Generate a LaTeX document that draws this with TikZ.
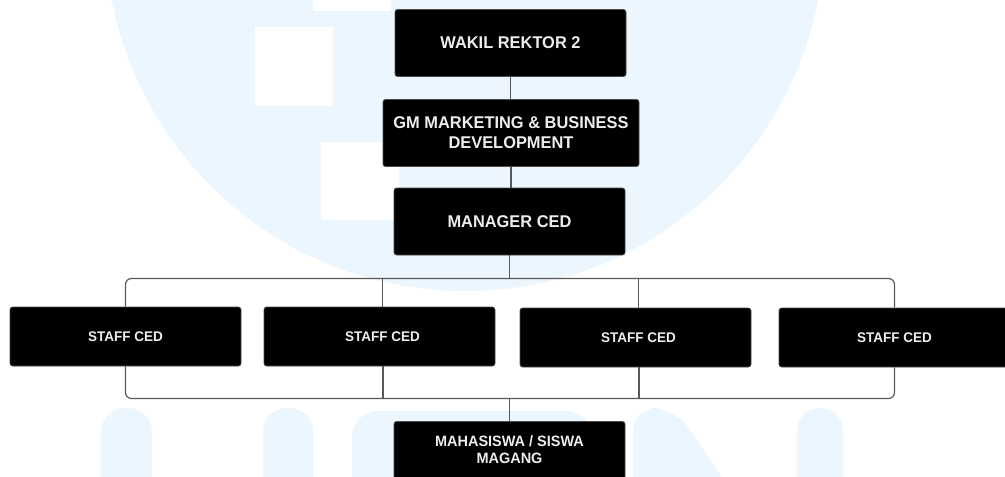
\documentclass[tikz,border=0pt]{standalone}
\usepackage{fontspec}
\setmainfont{Liberation Sans Bold}[FakeStretch=0.965]
\definecolor{wm}{HTML}{EBF6FF}
\tikzset{
  x=1pt,y=-1pt,
  box/.style={draw=black!70,line width=.6pt,fill=black,text=white!93!black,rounded corners=2.5pt,align=center,inner sep=0pt,minimum width=231pt},
  big/.style={box,minimum height=67pt,font=\fontsize{17}{20}\selectfont},
  staff/.style={box,minimum height=59pt,font=\fontsize{14}{16}\selectfont},
  conn/.style={draw=black!65,line width=1.2pt},
  wmw/.style={fill=white,draw=none},
  wmb/.style={fill=wm,draw=none}
}
\begin{document}
\begin{tikzpicture}
\useasboundingbox (0,0) rectangle (1005,477);
\clip (0,0) rectangle (1005,477);
\fill[white] (0,0) rectangle (1005,477);
\fill[wmb] (465,-68.6) circle[radius=359.6pt];
\fill[wmw] (313,-5) rectangle (391,11);
\fill[wmw] (255,27) rectangle (333,106);
\fill[wmw] (321,142) rectangle (399,220);
\fill[wmb,rounded corners=24pt] (101,408) rectangle (152,520);
\fill[wmb,rounded corners=24pt] (263,408) rectangle (313,520);
\fill[wmb,rounded corners=26pt] (352,411) rectangle (592,520);
\fill[wmb,rounded corners=24pt] (633,408) -- (633,520) -- (751,520) -- (675,408) -- cycle;
\fill[wmb,rounded corners=23pt] (797,408) rectangle (843,520);

\coordinate (tl) at (125.5,278.5);
\coordinate (tr) at (894.5,278.5);
\coordinate (bl) at (125.5,398.5);
\coordinate (br) at (894.5,398.5);

\node[big] (wr) at (510.5,43) {WAKIL REKTOR 2};
\node[big,minimum width=256pt] (gm) at (511,133) {GM MARKETING \& BUSINESS\\DEVELOPMENT};
\node[big] (mgr) at (509.5,221.5) {MANAGER CED};
\node[staff] (s1) at (125.5,336.5) {STAFF CED};
\node[staff] (s2) at (379.5,336.5) {\hspace*{6pt}STAFF CED};
\node[staff] (s3) at (635.5,337.5) {\hspace*{6pt}STAFF CED};
\node[staff] (s4) at (894.5,337.5) {STAFF CED};
\node[big,font=\fontsize{15}{17}\selectfont] (mhs) at (509.5,455) {\raisebox{20.5pt}{\begin{tabular}{@{}c@{}}MAHASISWA / SISWA\\[.5pt]MAGANG\end{tabular}}};

\draw[conn] (wr.south) -- (wr.south|-gm.north);
\draw[conn] (gm.south) -- (gm.south|-mgr.north);
\draw[conn] (mgr.south) -- (mgr.south|-tl);
\draw[conn,rounded corners=6pt] (s1.north) -- (tl) -- (tr) -- (s4.north);
\draw[conn,rounded corners=6pt] (s1.south) -- (bl) -- (br) -- (s4.south);
\draw[conn] (s2.north)++(3,0) -- ++(0,-29);
\draw[conn] (s3.north)++(3,0) -- ++(0,-29);
\draw[conn] (s2.south)++(3.5,0) -- ++(0,32);
\draw[conn] (s3.south)++(3.5,0) -- ++(0,32);
\draw[conn] (mhs.north) -- (mhs.north|-bl);
\end{tikzpicture}
\end{document}
